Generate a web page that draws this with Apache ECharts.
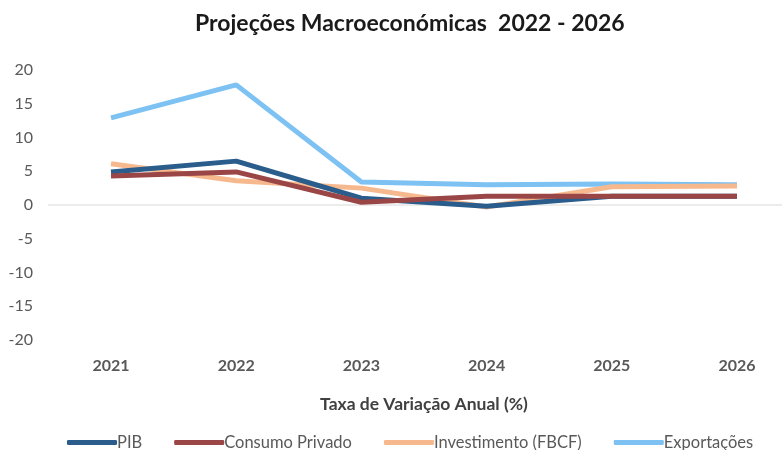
<!DOCTYPE html>
<html><head><meta charset="utf-8">
<script src="https://cdn.jsdelivr.net/npm/echarts@6/dist/echarts.min.js"></script>
<style>html,body{margin:0;padding:0;background:#fff}#c{width:784px;height:450px}</style>
</head><body><div id="c"></div>
<script>
const categories = ['2021','2022','2023','2024','2025','2026'];
const pib = [4.9, 6.5, 1.0, -0.2, 1.3, 1.3];
const consumo = [4.3, 4.9, 0.4, 1.3, 1.3, 1.3];
const investimento = [6.1, 3.6, 2.5, -0.3, 2.7, 2.8];
const exportacoes = [12.9, 17.8, 3.4, 3.0, 3.1, 3.0];
const yTicks = [-20, 20, 5];
const seriesNames = ['PIB','Consumo Privado','Investimento (FBCF)','Exportações'];
const colors = ['#2a5d8c','#9b4646','#f6b98e','#7dc2f2'];
const font = 'Lato, "Open Sans", sans-serif';

const chart = echarts.init(document.getElementById('c'));
const dataArr = [pib, consumo, investimento, exportacoes];
const order = [3, 2, 0, 1];
chart.setOption({
  animation: false,
  title: {
    text: 'Projeções Macroeconómicas  2022 - 2026',
    left: 190, top: 7,
    textStyle: {fontFamily: font, fontWeight: 'bold', fontSize: 23, color: '#1a1a1a'}
  },
  legend: {
    top: 429, left: 62,
    itemWidth: 50, itemHeight: 5, itemGap: 32,
    icon: 'roundRect',
    data: seriesNames,
    textStyle: {fontFamily: font, fontSize: 16.5, color: '#595959', padding: [0,0,0,-5]}
  },
  grid: {left: 111, top: 70, right: 47, bottom: 110},
  xAxis: {
    type: 'category', data: categories, boundaryGap: false,
    axisLine: {show: false, onZero: false}, axisTick: {show: false},
    axisLabel: {fontFamily: font, fontWeight: 'bold', fontSize: 16, color: '#595959', margin: 18},
    name: 'Taxa de Variação Anual (%)', nameLocation: 'middle', nameGap: 55,
    nameTextStyle: {fontFamily: font, fontWeight: 'bold', fontSize: 17.5, color: '#404040'}
  },
  yAxis: {
    type: 'value', min: yTicks[0], max: yTicks[1], interval: yTicks[2],
    axisLine: {show: false}, axisTick: {show: false}, splitLine: {show: false},
    axisLabel: {fontFamily: font, fontSize: 16, color: '#595959', align: 'right', margin: 78}
  },
  series: order.map((i, k) => ({
    name: seriesNames[i], type: 'line', data: dataArr[i],
    symbol: 'none', z: 2 + k,
    lineStyle: {color: colors[i], width: 5},
    itemStyle: {color: colors[i]}
  }))
});
const y0 = chart.convertToPixel({yAxisIndex: 0}, 0);
chart.setOption({
  graphic: [{
    type: 'line', z: 0, silent: true,
    shape: {x1: 48, y1: y0, x2: 782, y2: y0},
    style: {stroke: '#d9d9d9', lineWidth: 1}
  }]
});
</script></body></html>
